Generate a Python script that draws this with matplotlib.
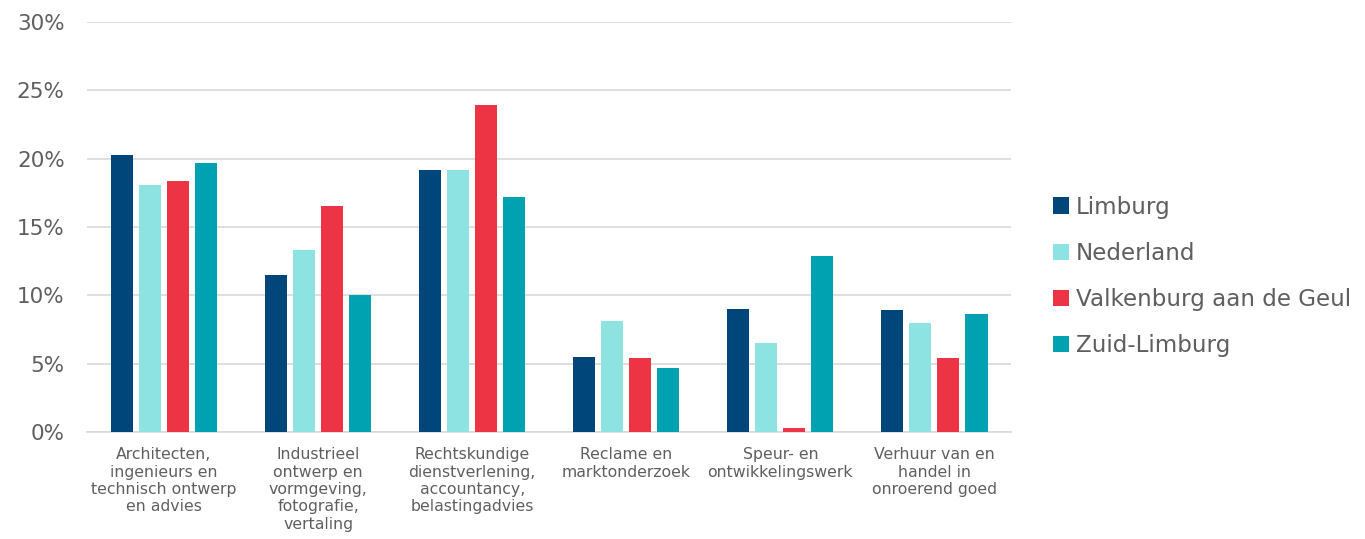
import numpy as np
import matplotlib
matplotlib.use("Agg")
import matplotlib.pyplot as plt
from matplotlib.ticker import FuncFormatter

categories = [
    "Architecten,\ningenieurs en\ntechnisch ontwerp\nen advies",
    "Industrieel\nontwerp en\nvormgeving,\nfotografie,\nvertaling",
    "Rechtskundige\ndienstverlening,\naccountancy,\nbelastingadvies",
    "Reclame en\nmarktonderzoek",
    "Speur- en\nontwikkelingswerk",
    "Verhuur van en\nhandel in\nonroerend goed",
]
series_names = ["Limburg", "Nederland", "Valkenburg aan de Geul", "Zuid-Limburg"]
limburg = [20.3, 11.5, 19.2, 5.5, 9.0, 8.9]
nederland = [18.1, 13.3, 19.2, 8.1, 6.5, 8.0]
valkenburg = [18.4, 16.5, 23.9, 5.4, 0.3, 5.4]
zuid_limburg = [19.7, 10.0, 17.2, 4.7, 12.9, 8.6]
colors = ["#00467A", "#8DE2E2", "#EC3445", "#00A1B0"]

text_col = "#5f5f5f"
plt.rcParams["font.family"] = ["DejaVu Sans"]

fig = plt.figure(figsize=(13.65, 5.39), dpi=100)
ax = fig.add_axes([0.0637, 0.1985, 0.6773, 0.7607])

x = np.arange(len(categories))
step = 0.182
width = 0.143
for i, (name, vals) in enumerate(zip(series_names, [limburg, nederland, valkenburg, zuid_limburg])):
    ax.bar(x + (i - 1.5) * step, vals, width, color=colors[i], label=name, zorder=3)

ax.set_xlim(-0.5, len(categories) - 0.5)
ax.set_ylim(0, 30)
ax.set_yticks(range(0, 31, 5))
ax.yaxis.set_major_formatter(FuncFormatter(lambda v, p: f"{int(v)}%"))
ax.grid(axis="y", color="#D9D9D9", linewidth=1.2, zorder=0)
for s in ["top", "right", "left"]:
    ax.spines[s].set_visible(False)
ax.spines["bottom"].set_color("#D9D9D9")
ax.spines["bottom"].set_linewidth(1.2)
ax.tick_params(axis="both", length=0)
ax.tick_params(axis="y", labelsize=15.5, labelcolor=text_col, pad=16)
ax.set_xticks(x)
ax.set_xticklabels(categories, fontsize=11.3, color=text_col, linespacing=1.2)
ax.tick_params(axis="x", pad=11)

leg = ax.legend(loc="center left", bbox_to_anchor=(1.022, 0.38), frameon=False,
                fontsize=16.6, handlelength=0.7, handleheight=0.7, handletextpad=0.3,
                labelspacing=1.0)
for t in leg.get_texts():
    t.set_color(text_col)

fig.savefig("out.png", dpi=100)
